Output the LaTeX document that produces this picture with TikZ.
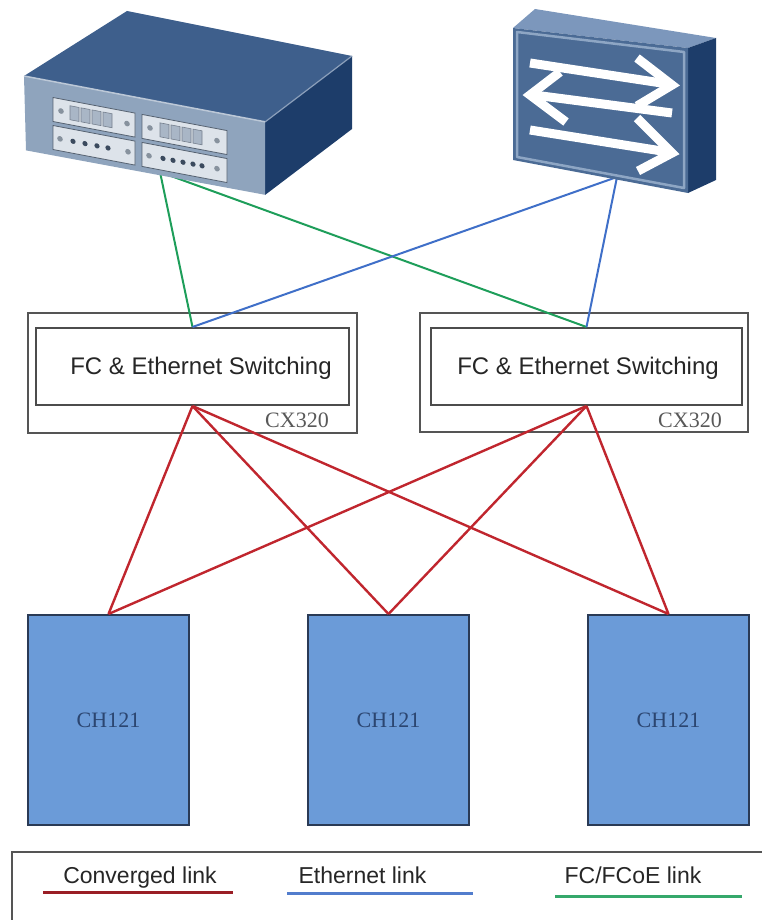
\documentclass[tikz,border=0pt]{standalone}
\usepackage{fontspec}
\setmainfont{Liberation Sans}
\newfontfamily\labelserif{Liberation Serif}
\definecolor{convred}{HTML}{C0262E}
\definecolor{ethblue}{HTML}{3F6FC8}
\definecolor{fcgreen}{HTML}{1E9E5A}
\definecolor{boxedge}{HTML}{555555}
\definecolor{bladefill}{HTML}{6B9BD8}
\definecolor{bladeedge}{HTML}{2A3A55}
\definecolor{bladetext}{HTML}{2B4570}
\definecolor{devtop}{HTML}{3E5F8C}
\definecolor{devfront}{HTML}{8FA4BD}
\definecolor{devside}{HTML}{1D3D6A}
\definecolor{devpanel}{HTML}{DDE3EA}
\definecolor{devport}{HTML}{A9B6C6}
\definecolor{devdot}{HTML}{3B4A5E}
\definecolor{swfront}{HTML}{4B6B95}
\definecolor{swbevel}{HTML}{8EA6C4}
\definecolor{swtop}{HTML}{7C97BC}
\begin{document}
\begin{tikzpicture}[x=1pt,y=-1pt,
  outerbox/.style={draw=boxedge, line width=2.2pt, fill=white, inner sep=0pt},
  innerbox/.style={draw=boxedge!90!black, line width=2pt, fill=white, inner sep=0pt},
  swtext/.style={font=\fontsize{24}{28}\selectfont, text=black!85, inner sep=0pt},
  modlabel/.style={font=\labelserif\fontsize{22}{26}\selectfont, text=black!65, inner sep=0pt},
  blade/.style={draw=bladeedge, line width=2pt, fill=bladefill, inner sep=0pt,
    minimum width=161pt, minimum height=210pt,
    font=\labelserif\fontsize{22}{26}\selectfont, text=bladetext},
  convlink/.style={draw=convred, line width=2.4pt},
  ethlink/.style={draw=ethblue, line width=2pt},
  fclink/.style={draw=fcgreen, line width=2pt},
  legtext/.style={font=\fontsize{23}{27}\selectfont, text=black!85, inner sep=0pt, anchor=base},
  panel/.style={fill=devpanel, draw=devfront!60!black, line width=0.8pt},
  port/.style={fill=devport, draw=devdot!70, line width=0.6pt},
  portdot/.style={fill=devdot},
  arrowbar/.style={draw=white, line width=9pt, line join=miter, line cap=butt}
]
\useasboundingbox (0,0) rectangle (762,920);
\clip (0,0) rectangle (762,920);

% ---- attachment points on the two upper devices
\coordinate (pa) at (160,172);
\coordinate (pb) at (617,177);

% ---- switching modules
\node[outerbox, minimum width=329pt, minimum height=120pt] (sw1) at (192.5,373) {};
\node[innerbox, minimum width=313pt, minimum height=77pt] (in1) at (192.5,366.5) {};
\node[swtext] (t1) at (201,368) {FC \& Ethernet Switching};
\node[modlabel] (m1) at (297,420) {CX320};

\node[outerbox, minimum width=328pt, minimum height=119pt] (sw2) at (584,372.5) {};
\node[innerbox, minimum width=311pt, minimum height=77pt] (in2) at (586.5,366.5) {};
\node[swtext] (t2) at (588,368) {FC \& Ethernet Switching};
\node[modlabel] (m2) at (690,420) {CX320};

% ---- compute blades
\node[blade] (ch1) at (108.5,720) {CH121};
\node[blade] (ch2) at (388.5,720) {CH121};
\node[blade] (ch3) at (668.5,720) {CH121};

% ---- links
\draw[fclink] (pa) -- (in1.north);
\draw[fclink] (pa) -- (in2.north);
\draw[ethlink] (pb) -- (in1.north);
\draw[ethlink] (pb) -- (in2.north);

\foreach \s in {in1,in2}
  \foreach \c in {ch1,ch2,ch3}
    \draw[convlink] (\s.south) -- (\c.north);

% ---- storage device (upper left)
\fill[devtop] (24,76) -- (127,11) -- (352,56) -- (265,122) -- cycle;
\fill[devside] (265,122) -- (352,56) -- (352,129) -- (265,195) -- cycle;
\draw[devtop!60!white, line width=1.2pt] (352,56) -- (265,122);
\begin{scope}[shift={(24,76)}, yslant=-0.19]
  \fill[devfront] (0,0) -- (241,0) -- (241,73) -- (2,74) -- cycle;
  \draw[devfront!60!white, line width=1.5pt] (0,0) -- (241,0);
  % port panels
  \foreach \u/\w in {29/82,118/85}
    \foreach \v in {16,44}
      \draw[panel] (\u,\v) rectangle ++(\w,24);
  % upper row: square ports between two screws
  \foreach \u in {46,57,68,79} \draw[port] (\u,21) rectangle ++(9,14);
  \foreach \u in {136,147,158,169} \draw[port] (\u,21) rectangle ++(9,14);
  \foreach \u in {37,103,126,193} \fill[devport!80!black] (\u,28) circle (2.8);
  % lower row: round ports between two screws
  \foreach \u in {49,61,73,84} \fill[portdot] (\u,56) circle (2.6);
  \foreach \u in {139,149,159,169,178} \fill[portdot] (\u,56) circle (2.6);
  \foreach \u in {36,104,125,193} \fill[devport!80!black] (\u,56) circle (2.8);
\end{scope}

% ---- network switch (upper right)
\fill[swtop] (513,28) -- (535,9) -- (716,38) -- (688,48) -- cycle;
\fill[devside] (688,48) -- (716,38) -- (716,180) -- (688,193) -- cycle;
\fill[swfront] (513,28) -- (688,48) -- (688,193) -- (513,160) -- cycle;
\draw[swbevel, line width=2.5pt, line join=round] (517,32) -- (684,52) -- (684,188) -- (517,157) -- cycle;
% three white arrows
\draw[arrowbar] (530,63) -- (668,84);
\draw[arrowbar] (637,58) -- (672,85) -- (637,106);
\draw[arrowbar] (672,113) -- (534,95);
\draw[arrowbar] (560,72) -- (530,95) -- (566,122);
\draw[arrowbar] (530,130) -- (668,152);
\draw[arrowbar] (637,118) -- (672,153) -- (638,171);

% ---- legend
\node[draw=boxedge, line width=2pt, fill=white, minimum width=763pt, minimum height=83pt, inner sep=0pt] (lg) at (393.5,893.5) {};
\node[legtext] (l1) at (140,883) {Converged link};
\node[legtext] (l2) at (362.5,883) {Ethernet link};
\node[legtext] (l3) at (633,883) {FC/FCoE link};
\coordinate (r1a) at (43,892);  \coordinate (r1b) at (233,892);
\coordinate (r2a) at (287,893); \coordinate (r2b) at (473,893);
\coordinate (r3a) at (555,896); \coordinate (r3b) at (742,896);
\draw[draw=convred!80!black, line width=3pt] (r1a) -- (r1b);
\draw[draw=ethblue!90!white, line width=3pt] (r2a) -- (r2b);
\draw[draw=fcgreen!90!white, line width=3pt] (r3a) -- (r3b);
\end{tikzpicture}
\end{document}
